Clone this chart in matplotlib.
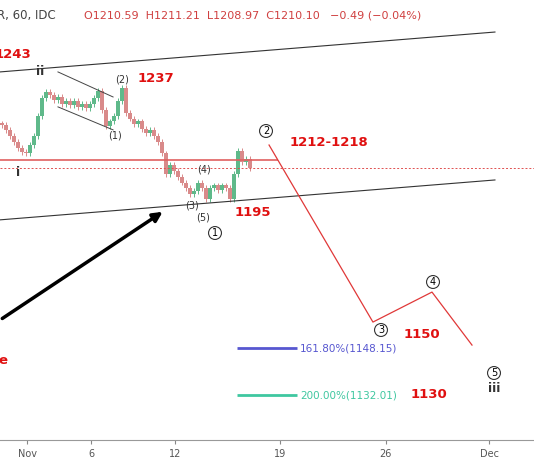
import matplotlib
matplotlib.use("Agg")
from matplotlib import pyplot as plt

# hourly closes (USD), first candle near Oct 30, step = one candle
closes = [1224.8, 1223, 1221, 1219, 1217, 1215.5, 1215, 1218, 1221, 1228, 1234, 1236,
          1235, 1233.5, 1234.5, 1232, 1233, 1231.5, 1233, 1231, 1232, 1230.5, 1232, 1234,
          1236.5, 1230, 1224.5, 1226, 1228, 1233, 1237.5, 1229, 1227, 1225, 1226, 1223.5,
          1222, 1223, 1221, 1219, 1215, 1208, 1211, 1209, 1207, 1205, 1203, 1201, 1202,
          1205, 1203, 1199.5, 1203, 1204, 1202.5, 1204, 1203, 1199.5, 1208, 1216, 1212,
          1213, 1210.1]
first_day, day_step = -1.66, 0.265

tick_days = [0.0, 4.24, 9.8, 16.75, 23.77, 30.6]
tick_labels = ["Nov", "6", "12", "19", "26", "Dec"]

upper_channel = ([-1.79, 30.99], [1243.0, 1256.7])
lower_channel = ([-1.79, 30.99], [1192.2, 1205.9])
small_top = ([2.05, 5.70], [1243.0, 1234.4])
small_bot = ([2.05, 5.70], [1231.0, 1223.1])
arrow_from, arrow_to = (-1.79, 1157.8), (9.14, 1195.5)
projection_days = [16.03, 22.91, 26.82, 29.47]
projection_prices = [1217.9, 1157.1, 1167.4, 1149.2]
fib_levels = [1148.15, 1132.01]
fib_labels = ["161.80%(1148.15)", "200.00%(1132.01)"]
fib_colors = ["#5757d0", "#3fc7a0"]
last_close = 1210.10
zone_price = 1212.8

W, H = 534, 462
fig = plt.figure(figsize=(W / 100, H / 100), dpi=100)
ax = fig.add_axes([0, 22 / H, 1, 440 / H])
ax.set_xlim(-27 / 15.1, (W - 27) / 15.1)
ax.set_ylim(1267.7 - 440 * 0.3434, 1267.7)


def P(px, py):
    # image pixel -> data coordinates
    return (px - 27) / 15.1, 1267.7 - py * 0.3434


prev = closes[0] + 0.5
for i, c in enumerate(closes):
    x = first_day + i * day_step
    col = "#5fb98a" if c >= prev else "#d98a8a"
    ax.vlines(x, min(c, prev) - 1.0, max(c, prev) + 1.0, color=col, lw=0.7)
    ax.bar(x, abs(c - prev) or 0.3, bottom=min(c, prev), width=0.22, color=col)
    prev = c

ax.plot(*upper_channel, color="#333333", lw=0.8)
ax.plot(*lower_channel, color="#333333", lw=0.8)
ax.plot(*small_top, color="#444444", lw=0.7)
ax.plot(*small_bot, color="#444444", lw=0.7)
ax.hlines(zone_price, -1.8, 16.6, color="#e06060", lw=1.2)
ax.axhline(last_close, color="#e05050", lw=0.7, ls=(0, (2, 2)))
ax.plot(projection_days, projection_prices, color="#e03838", lw=0.9)
ax.annotate("", xy=arrow_to, xytext=arrow_from,
            arrowprops=dict(arrowstyle="-|>", lw=2.5, color="black", mutation_scale=14))

for lvl, lab, col in zip(fib_levels, fib_labels, fib_colors):
    ax.hlines(lvl, 13.91, 17.88, color=col, lw=2)
    ax.text(18.1, lvl, lab, color=col, fontsize=7.5, va="center")

circ = dict(boxstyle="circle,pad=0.15", fc="white", ec="#333333", lw=0.8)
for s, (px, py) in [("2", (266, 131)), ("1", (215, 233)), ("3", (381, 330)),
                    ("4", (433, 282)), ("5", (494, 373))]:
    ax.text(*P(px, py), s, fontsize=7, ha="center", va="center", bbox=circ)

for s, (px, py), fs in [("(2)", (122, 79), 7), ("(1)", (115, 136), 7), ("(4)", (204, 170), 7),
                        ("(3)", (192, 206), 7), ("(5)", (203, 218), 7),
                        ("i", (18, 172), 9), ("ii", (40, 72), 9), ("iii", (494, 389), 9)]:
    ax.text(*P(px, py), s, fontsize=fs, ha="center", va="center", color="#333333",
            fontweight="bold" if fs == 9 else "normal")

red = dict(color="#e01010", fontsize=9.5, fontweight="bold", va="center")
for s, (px, py) in [("1243", (-5, 55)), ("1237", (138, 79)), ("1212-1218", (290, 143)),
                    ("1195", (235, 212)), ("1150", (404, 334)), ("1130", (411, 395)),
                    ("e", (-2, 360))]:
    ax.text(*P(px, py), s, **red)

ax.text(*P(-3, 16), "R, 60, IDC", fontsize=8.5, color="#444444", va="center")
ax.text(*P(84, 16), "O1210.59  H1211.21  L1208.97  C1210.10", fontsize=8,
        color="#d04040", va="center")
ax.text(*P(330, 16), "\u22120.49 (\u22120.04%)", fontsize=8, color="#d04040", va="center")

ax.set_xticks(tick_days, tick_labels, fontsize=7, color="#555555")
ax.set_yticks([])
ax.tick_params(axis="x", length=3, color="#888888")
for side in ["top", "right", "left"]:
    ax.spines[side].set_visible(False)
ax.spines["bottom"].set_color("#999999")

fig.savefig("out.png", dpi=100)
